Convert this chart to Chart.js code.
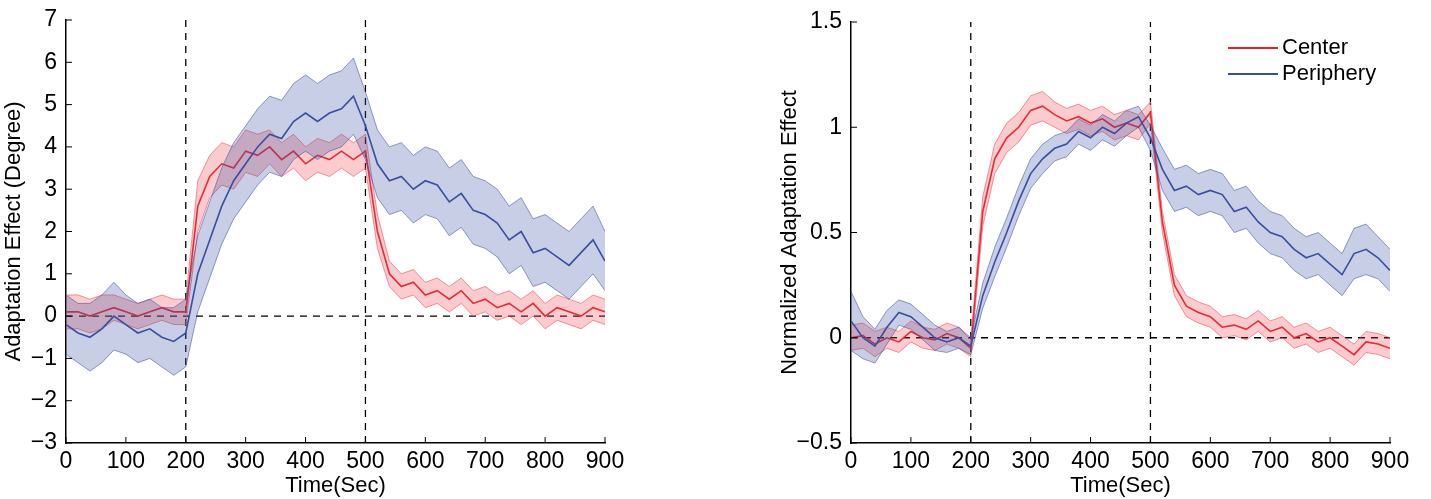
<!DOCTYPE html>
<html><head><meta charset="utf-8">
<script src="https://cdn.jsdelivr.net/npm/chart.js@4/dist/chart.umd.min.js"></script>
<style>
body{margin:0;background:#fff;width:1431px;height:499px;overflow:hidden;position:relative;font-family:"Liberation Sans",Arial,sans-serif}
.box{position:absolute;top:0;height:499px}
#legend{position:absolute;left:1228px;top:34px;font-size:22px;line-height:26px;color:#000}
#legend span{display:inline-block;width:50px;height:0;border-top:2px solid;vertical-align:middle;margin-right:4px}
</style></head><body>
<div class="box" style="left:0;width:627px"><canvas id="c1"></canvas></div>
<div class="box" style="left:776px;width:636px"><canvas id="c2"></canvas></div>
<div id="legend"><div><span style="border-color:#e8202a"></span>Center</div><div><span style="border-color:#3a4ea0"></span>Periphery</div></div>
<script>
const TIME = [0,20,40,60,80,100,120,140,160,180,200,220,240,260,280,300,320,340,360,380,400,420,440,460,480,500,520,540,560,580,600,620,640,660,680,700,720,740,760,780,800,820,840,860,880,900];

const rawCenter = [0.1,0.1,0.0,0.1,0.2,0.1,0.0,0.1,0.2,0.1,0.1,2.6,3.3,3.6,3.5,3.9,3.8,4.0,3.7,3.9,3.6,3.8,3.7,3.9,3.7,3.9,2.0,1.0,0.7,0.8,0.5,0.6,0.4,0.6,0.3,0.4,0.2,0.3,0.1,0.3,0.0,0.2,0.1,0.0,0.2,0.1];
const rawCenterSem = [0.4,0.4,0.4,0.4,0.3,0.3,0.3,0.3,0.3,0.3,0.3,0.6,0.5,0.5,0.5,0.5,0.5,0.4,0.4,0.4,0.4,0.4,0.4,0.4,0.4,0.4,0.4,0.3,0.3,0.3,0.3,0.3,0.3,0.3,0.3,0.3,0.3,0.3,0.3,0.3,0.3,0.3,0.3,0.3,0.3,0.3];
const rawPeriph = [-0.2,-0.4,-0.5,-0.3,0.0,-0.2,-0.4,-0.3,-0.5,-0.6,-0.4,1.0,1.8,2.6,3.2,3.6,4.0,4.3,4.2,4.6,4.8,4.6,4.8,4.9,5.2,4.5,3.6,3.2,3.3,3.0,3.2,3.1,2.7,2.9,2.5,2.4,2.2,1.8,2.0,1.5,1.6,1.4,1.2,1.5,1.8,1.3];
const rawPeriphSem = [0.7,0.7,0.8,0.8,0.8,0.7,0.7,0.7,0.7,0.8,0.8,0.9,0.9,0.9,0.9,0.9,0.9,0.9,0.9,0.9,0.9,0.9,0.9,0.9,0.9,0.8,0.8,0.8,0.8,0.8,0.8,0.8,0.8,0.8,0.8,0.8,0.8,0.8,0.8,0.8,0.8,0.8,0.8,0.8,0.8,0.7];

const normCenter = [0.0,0.01,-0.03,0.0,-0.02,0.03,0.0,-0.01,0.02,0.0,-0.05,0.6,0.85,0.95,1.0,1.08,1.1,1.06,1.03,1.05,1.02,1.04,1.0,1.02,1.0,1.07,0.55,0.25,0.15,0.12,0.1,0.05,0.06,0.04,0.08,0.03,0.05,0.0,0.02,-0.02,0.0,-0.04,-0.08,-0.02,-0.03,-0.05];
const normCenterSem = [0.06,0.06,0.06,0.05,0.05,0.05,0.05,0.05,0.05,0.05,0.04,0.07,0.07,0.07,0.07,0.07,0.07,0.06,0.06,0.06,0.06,0.06,0.06,0.06,0.06,0.05,0.05,0.05,0.05,0.05,0.05,0.05,0.05,0.05,0.05,0.05,0.05,0.05,0.05,0.05,0.05,0.05,0.05,0.05,0.05,0.05];
const normPeriph = [0.08,0.0,-0.04,0.05,0.12,0.1,0.05,0.0,-0.02,0.0,-0.04,0.2,0.36,0.5,0.65,0.78,0.85,0.9,0.92,0.98,0.95,1.0,0.97,1.02,1.05,0.95,0.8,0.7,0.72,0.68,0.7,0.68,0.6,0.62,0.55,0.5,0.48,0.42,0.38,0.4,0.35,0.3,0.4,0.42,0.38,0.32];
const normPeriphSem = [0.14,0.1,0.08,0.08,0.06,0.06,0.06,0.06,0.05,0.05,0.04,0.06,0.07,0.07,0.07,0.07,0.07,0.06,0.06,0.06,0.06,0.06,0.06,0.06,0.05,0.06,0.1,0.1,0.1,0.1,0.1,0.1,0.1,0.1,0.1,0.1,0.1,0.1,0.1,0.1,0.1,0.1,0.12,0.12,0.1,0.1];

const RED = '#e8202a', BLUE = '#3a4ea0';
const FONT = "'Liberation Sans', Arial, sans-serif";
Chart.defaults.font.family = FONT;
Chart.defaults.color = '#000';

const pts = (ys) => ys.map((y, i) => ({ x: TIME[i], y }));

// shaded mean +/- sem band followed by the mean line
function band(mean, sem, color, fillCol, edgeCol) {
  return [
    { data: pts(mean.map((m, i) => m + sem[i])), borderColor: edgeCol, borderWidth: 1, fill: '+1', backgroundColor: fillCol },
    { data: pts(mean.map((m, i) => m - sem[i])), borderColor: edgeCol, borderWidth: 1, fill: false },
    { data: pts(mean), borderColor: color, borderWidth: 1.6, fill: false },
  ];
}

function dashed(data) {
  return { data, borderColor: '#000', borderWidth: 1.3, borderDash: [7, 6], fill: false };
}

// inward tick marks, drawn after the axes
const innerTicks = {
  id: 'innerTicks',
  afterDraw(chart) {
    const { ctx, chartArea: a, scales: { x, y } } = chart;
    ctx.save();
    ctx.strokeStyle = '#000';
    ctx.lineWidth = 1;
    ctx.beginPath();
    x.ticks.forEach((t) => { const px = x.getPixelForValue(t.value); ctx.moveTo(px, a.bottom); ctx.lineTo(px, a.bottom - 6); });
    y.ticks.forEach((t) => { const py = y.getPixelForValue(t.value); ctx.moveTo(a.left, py); ctx.lineTo(a.left + 6, py); });
    ctx.stroke();
    ctx.restore();
  },
};

const fmt = (v) => (v < 0 ? '\u2212' + Math.abs(v) : String(v));

function makeChart(id, sets, ymin, ymax, ystep, ytitle, yWidth, padTop) {
  return new Chart(document.getElementById(id), {
    type: 'line',
    data: {
      datasets: [
        ...band(sets[1][0], sets[1][1], BLUE, 'rgba(58,78,160,0.28)', 'rgba(58,78,160,0.55)'),
        ...band(sets[0][0], sets[0][1], RED, 'rgba(240,70,80,0.28)', 'rgba(240,80,90,0.6)'),
        dashed([{ x: 200, y: ymin }, { x: 200, y: ymax }]),
        dashed([{ x: 500, y: ymin }, { x: 500, y: ymax }]),
        dashed([{ x: 0, y: 0 }, { x: 900, y: 0 }]),
      ],
    },
    options: {
      responsive: true,
      maintainAspectRatio: false,
      animation: false,
      elements: { point: { radius: 0 }, line: { tension: 0 } },
      layout: { padding: { top: padTop, right: 22, left: 0, bottom: 0 } },
      plugins: { legend: { display: false }, tooltip: { enabled: false } },
      scales: {
        x: {
          type: 'linear', min: 0, max: 900,
          ticks: { stepSize: 100, padding: -3, font: { size: 23 }, maxRotation: 0 },
          grid: { display: false },
          border: { color: '#000', width: 1.5 },
          title: { display: true, text: 'Time(Sec)', font: { size: 22 }, padding: 0 },
          afterFit: (s) => { s.height = 56; },
        },
        y: {
          min: ymin, max: ymax,
          ticks: { stepSize: ystep, padding: 1, font: { size: 23 }, callback: fmt },
          grid: { display: false },
          border: { color: '#000', width: 1.5 },
          title: { display: true, text: ytitle, font: { size: 22 }, padding: 1 },
          afterFit: (s) => { s.width = yWidth; },
        },
      },
    },
    plugins: [innerTicks],
  });
}

makeChart('c1', [[rawCenter, rawCenterSem], [rawPeriph, rawPeriphSem]], -3, 7, 1, 'Adaptation Effect (Degree)', 66, 20);
makeChart('c2', [[normCenter, normCenterSem], [normPeriph, normPeriphSem]], -0.5, 1.5, 0.5, 'Normalized Adaptation Effect', 75, 22);
</script>
</body></html>
